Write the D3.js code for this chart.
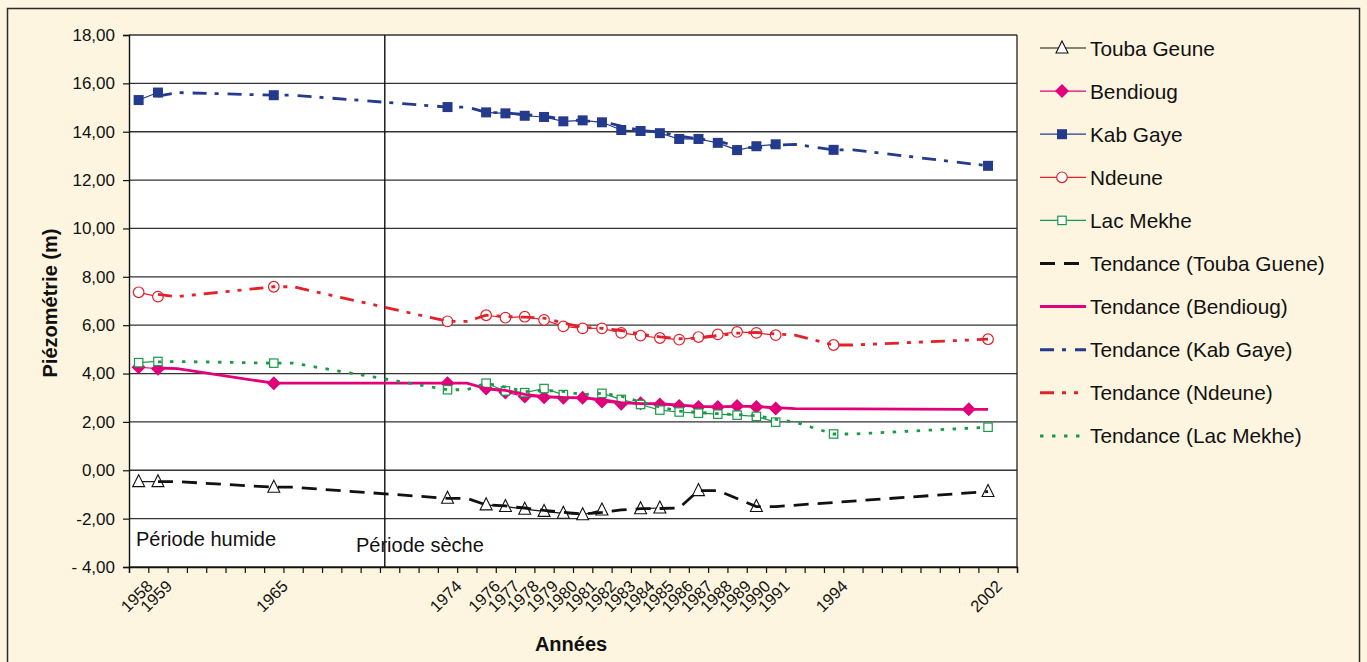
<!DOCTYPE html>
<html lang="fr">

<head>
	<meta charset="utf-8" />
	<title>Piézométrie</title>
	<script src="https://d3js.org/d3.v7.min.js"></script>
	<style>
		body { margin: 0; background: #fdf5df; }
		svg text { font-family: "Liberation Sans", Arial, Helvetica, sans-serif; fill: #111; }
	</style>
</head>

<body>
	<div id="chart"></div>

	<script>
		// years that carry a measurement (category axis, one slot per year 1958-2003)
		var years = [1958, 1959, 1965, 1974, 1976, 1977, 1978, 1979, 1980, 1981, 1982, 1983, 1984, 1985, 1986, 1987, 1988, 1989, 1990, 1991, 1994, 2001, 2002];
		var labelYears = [1958, 1959, 1965, 1974, 1976, 1977, 1978, 1979, 1980, 1981, 1982, 1983, 1984, 1985, 1986, 1987, 1988, 1989, 1990, 1991, 1994, 2002];

		var toubaGeune = [-0.47, -0.47, -0.70, -1.16, -1.43, -1.50, -1.61, -1.70, -1.78, -1.84, -1.64, null, -1.59, -1.56, null, -0.84, null, null, -1.50, null, null, null, -0.88];
		var bendioug = [4.26, 4.20, 3.60, 3.60, 3.38, 3.22, 3.05, 3.02, 3.00, 3.00, 2.84, 2.75, 2.77, 2.72, 2.66, 2.62, 2.62, 2.66, 2.62, 2.55, null, 2.52, null];
		var kabGaye = [15.31, 15.62, 15.51, 15.02, 14.80, 14.76, 14.66, 14.61, 14.43, 14.47, 14.39, 14.07, 14.03, 13.94, 13.70, 13.70, 13.54, 13.24, 13.40, 13.48, 13.25, null, 12.59];
		var ndeune = [7.36, 7.18, 7.59, 6.16, 6.41, 6.31, 6.35, 6.22, 5.95, 5.87, 5.87, 5.68, 5.57, 5.47, 5.40, 5.51, 5.62, 5.72, 5.68, 5.59, 5.18, null, 5.42];
		var lacMekhe = [4.45, 4.50, 4.43, 3.33, 3.60, 3.28, 3.21, 3.38, 3.13, null, 3.18, 2.93, 2.72, 2.49, 2.41, 2.36, 2.32, 2.28, 2.23, 1.99, 1.50, null, 1.78];

		// "Tendance" curves
		var trendYears = [1959, 1960, 1965, 1966, 1974, 1975, 1976, 1977, 1978, 1979, 1980, 1981, 1982, 1983, 1984, 1985, 1986, 1987, 1988, 1989, 1990, 1991, 1992, 1994, 1995, 2001, 2002];
		var trendTouba = [-0.47, -0.47, -0.70, -0.70, -1.16, -1.16, -1.43, -1.47, -1.56, -1.66, -1.74, -1.81, -1.74, -1.64, -1.59, -1.58, -1.56, -0.84, -0.84, null, -1.50, -1.50, null, null, null, null, -0.88];
		var trendBendioug = [4.23, 4.20, 3.60, 3.60, 3.60, 3.60, 3.38, 3.30, 3.14, 3.04, 3.01, 3.00, 2.92, 2.80, 2.76, 2.75, 2.69, 2.64, 2.62, 2.64, 2.64, 2.59, 2.55, null, null, 2.52, 2.52];
		var trendKab = [15.47, 15.62, 15.51, 15.51, 15.02, 15.02, 14.80, 14.78, 14.71, 14.64, 14.52, 14.45, 14.43, 14.23, 14.05, 13.99, 13.82, 13.70, 13.62, 13.39, 13.32, 13.44, 13.48, 13.25, 13.25, null, 12.59];
		var trendNdeune = [7.27, 7.18, 7.59, 7.59, 6.16, 6.16, 6.41, 6.36, 6.33, 6.29, 6.09, 5.91, 5.87, 5.78, 5.63, 5.52, 5.44, 5.46, 5.57, 5.67, 5.70, 5.64, 5.59, 5.18, 5.18, null, 5.42];
		var trendLac = [4.48, 4.50, 4.43, 4.43, 3.33, 3.33, 3.60, 3.44, 3.25, 3.30, 3.26, 3.13, 3.18, 3.06, 2.83, 2.61, 2.45, 2.39, 2.34, 2.30, 2.26, 2.11, 1.99, 1.50, 1.50, null, 1.78];

		var yTicks = [-4, -2, 0, 2, 4, 6, 8, 10, 12, 14, 16, 18];
		var yTickLabels = ["- 4,00", "-2,00", "0,00", "2,00", "4,00", "6,00", "8,00", "10,00", "12,00", "14,00", "16,00", "18,00"];
		var periodSplit = 1970.75;

		var series = [
			{ name: "Touba Geune", values: toubaGeune, color: "#111111", marker: "triangle" },
			{ name: "Bendioug", values: bendioug, color: "#e2007a", marker: "diamond" },
			{ name: "Kab Gaye", values: kabGaye, color: "#243a8c", marker: "square" },
			{ name: "Ndeune", values: ndeune, color: "#e3212b", marker: "circle" },
			{ name: "Lac Mekhe", values: lacMekhe, color: "#1a9a48", marker: "opensquare" }
		];
		var trends = [
			{ name: "Tendance (Touba Guene)", values: trendTouba, color: "#111111", dash: "15,9" },
			{ name: "Tendance (Bendioug)", values: trendBendioug, color: "#e2007a", dash: null },
			{ name: "Tendance (Kab Gaye)", values: trendKab, color: "#243a8c", dash: "14,8,4,9" },
			{ name: "Tendance (Ndeune)", values: trendNdeune, color: "#e3212b", dash: "14,8,4,8,4,8" },
			{ name: "Tendance (Lac Mekhe)", values: trendLac, color: "#1a9a48", dash: "3.5,8.5" }
		];

		// dimensions
		var W = 1367, H = 662;
		var margin = { top: 35, left: 129 },
			width = 888,
			height = 532;

		var svg = d3.select("#chart")
			.append("svg")
			.attr("width", W)
			.attr("height", H);

		// outer frame
		svg.append("rect")
			.attr("x", 7.5).attr("y", 8.5)
			.attr("width", 1352).attr("height", 700)
			.attr("fill", "#fdf5df")
			.attr("stroke", "#2b2b2b")
			.attr("stroke-width", 1.5);

		var g = svg.append("g")
			.attr("transform", "translate(" + margin.left + "," + margin.top + ")");

		var x = d3.scaleLinear().domain([1957.5, 2003.5]).range([0, width]);
		var y = d3.scaleLinear().domain([-4, 18]).range([height, 0]);

		g.append("rect")
			.attr("width", width).attr("height", height)
			.attr("fill", "#fff");

		// horizontal grid
		g.append("g")
			.selectAll("line")
			.data(yTicks)
			.enter().append("line")
			.attr("x1", 0).attr("x2", width)
			.attr("y1", function(d) { return y(d); })
			.attr("y2", function(d) { return y(d); })
			.attr("stroke", "#333")
			.attr("stroke-width", 1.3);

		// right frame
		g.append("line")
			.attr("x1", width).attr("x2", width)
			.attr("y1", 0).attr("y2", height)
			.attr("stroke", "#222").attr("stroke-width", 1.3);

		// period separator
		g.append("line")
			.attr("x1", x(periodSplit)).attr("x2", x(periodSplit))
			.attr("y1", 0).attr("y2", height)
			.attr("stroke", "#111").attr("stroke-width", 1.4);

		// y axis
		var yAxis = g.append("g")
			.call(d3.axisLeft(y)
				.tickValues(yTicks)
				.tickSize(6)
				.tickPadding(8)
				.tickFormat(function(d, i) { return yTickLabels[i]; }));
		yAxis.select(".domain").attr("stroke", "#111").attr("stroke-width", 1.4);
		yAxis.selectAll(".tick line").attr("stroke", "#111").attr("stroke-width", 1.2);
		yAxis.selectAll("text")
			.style("font-size", "17px")
			.style("font-family", "'Liberation Sans', Arial, sans-serif")
			.attr("fill", "#111");

		// x axis: one tick between each yearly slot
		var xAxis = g.append("g")
			.attr("transform", "translate(0," + height + ")")
			.call(d3.axisBottom(x)
				.tickValues(d3.range(1957.5, 2004, 1))
				.tickSize(6)
				.tickFormat(""));
		xAxis.select(".domain").attr("stroke", "#111").attr("stroke-width", 1.4);
		xAxis.selectAll(".tick line").attr("stroke", "#111").attr("stroke-width", 1.2);

		g.append("g")
			.selectAll("text")
			.data(labelYears)
			.enter().append("text")
			.attr("transform", function(d) {
				return "translate(" + (x(d) + 7) + "," + (height + 12) + ") rotate(-45)";
			})
			.attr("text-anchor", "end")
			.attr("dy", "0.7em")
			.style("font-size", "16.5px")
			.text(function(d) { return d; });

		// period labels
		g.append("text")
			.attr("x", 7).attr("y", 511)
			.style("font-size", "20px")
			.text("Période humide");
		g.append("text")
			.attr("x", 227).attr("y", 517)
			.style("font-size", "20px")
			.text("Période sèche");

		// axis titles
		svg.append("text")
			.attr("transform", "translate(57,303) rotate(-90)")
			.attr("text-anchor", "middle")
			.style("font-size", "20px")
			.style("font-weight", "bold")
			.text("Piézométrie (m)");
		svg.append("text")
			.attr("x", 571).attr("y", 651)
			.attr("text-anchor", "middle")
			.style("font-size", "20px")
			.style("font-weight", "bold")
			.text("Années");

		// marker drawing
		function drawMarker(sel, type, color) {
			if (type === "triangle") {
				sel.append("path").attr("d", "M0,-7L6,5L-6,5Z")
					.attr("fill", "#fff").attr("stroke", color).attr("stroke-width", 1.1);
			} else if (type === "diamond") {
				sel.append("path").attr("d", "M0,-7L7,0L0,7L-7,0Z")
					.attr("fill", color);
			} else if (type === "square") {
				sel.append("rect").attr("x", -5).attr("y", -5).attr("width", 10).attr("height", 10)
					.attr("fill", color);
			} else if (type === "circle") {
				sel.append("circle").attr("r", 5.3)
					.attr("fill", "#fff").attr("stroke", color).attr("stroke-width", 1.2);
			} else {
				sel.append("rect").attr("x", -4.2).attr("y", -4.2).attr("width", 8.4).attr("height", 8.4)
					.attr("fill", "#fff").attr("stroke", color).attr("stroke-width", 1.2);
			}
		}

		// data lines: only consecutive years are joined
		series.forEach(function(s) {
			var pts = years.map(function(yr, i) { return { year: yr, value: s.values[i] }; });
			var segs = [];
			for (var i = 0; i < pts.length - 1; i++) {
				if (pts[i].value != null && pts[i + 1].value != null && pts[i + 1].year - pts[i].year === 1) {
					segs.push([pts[i], pts[i + 1]]);
				}
			}
			var line = d3.line()
				.x(function(d) { return x(d.year); })
				.y(function(d) { return y(d.value); });
			g.append("g").selectAll("path")
				.data(segs)
				.enter().append("path")
				.attr("d", line)
				.attr("fill", "none")
				.attr("stroke", s.color)
				.attr("stroke-width", 1.2);
		});

		series.forEach(function(s) {
			var pts = years.map(function(yr, i) { return { year: yr, value: s.values[i] }; })
				.filter(function(d) { return d.value != null; });
			g.append("g").selectAll("g")
				.data(pts)
				.enter().append("g")
				.attr("transform", function(d) { return "translate(" + x(d.year) + "," + y(d.value) + ")"; })
				.each(function() { drawMarker(d3.select(this), s.marker, s.color); });
		});

		// trend curves on top
		trends.forEach(function(t) {
			var pts = trendYears.map(function(yr, i) { return { year: yr, value: t.values[i] }; })
				.filter(function(d) { return d.value != null; });
			g.append("path")
				.datum(pts)
				.attr("d", d3.line()
					.x(function(d) { return x(d.year); })
					.y(function(d) { return y(d.value); }))
				.attr("fill", "none")
				.attr("stroke", t.color)
				.attr("stroke-width", 2.8)
				.attr("stroke-dasharray", t.dash);
		});

		// legend
		var legend = svg.append("g").attr("transform", "translate(1040,48)");
		var rowH = 43.1;
		series.forEach(function(s, i) {
			var row = legend.append("g").attr("transform", "translate(0," + (i * rowH) + ")");
			row.append("line").attr("x1", 0).attr("x2", 46)
				.attr("stroke", s.color).attr("stroke-width", 1.2);
			drawMarker(row.append("g").attr("transform", "translate(22,0)"), s.marker, s.color);
			row.append("text").attr("x", 50).attr("dy", "0.36em")
				.style("font-size", "20.8px").text(s.name);
		});
		trends.forEach(function(t, i) {
			var row = legend.append("g").attr("transform", "translate(0," + ((i + 5) * rowH) + ")");
			row.append("line").attr("x1", 0).attr("x2", 46)
				.attr("stroke", t.color).attr("stroke-width", 3)
				.attr("stroke-dasharray", t.dash);
			row.append("text").attr("x", 50).attr("dy", "0.36em")
				.style("font-size", "20.8px").text(t.name);
		});
	</script>
</body>

</html>
